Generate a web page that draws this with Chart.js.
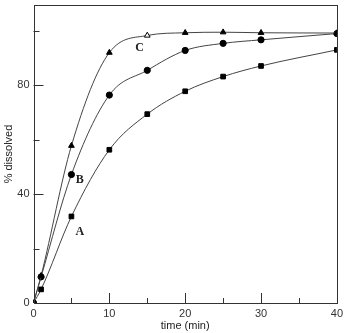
<!DOCTYPE html>
<html><head><meta charset="utf-8">
<script src="https://cdn.jsdelivr.net/npm/chart.js@4"></script>
<style>html,body{margin:0;padding:0;background:#fff}#wrap{width:347px;height:333px}</style>
</head><body><div id="wrap"><canvas id="c"></canvas></div>
<script>
const times = [0, 1, 5, 10, 15, 20, 25, 30, 40];
const seriesA = [0, 5, 31.8, 56.3, 69.4, 77.8, 83.2, 87.1, 93];
const seriesB = [0, 9.6, 47.2, 76.4, 85.5, 92.8, 95.4, 96.7, 99];
const seriesC = [0, 10, 57.8, 92, 98.3, 99.3, 99.5, 99.3, 99.2];
const xTickLabels = [0, 10, 20, 30, 40];
const yTickLabels = [0, 40, 80];
const curveLabels = ['A', 'B', 'C'];

const toXY = ys => times.map((t, i) => ({x: t, y: ys[i]}));
const labelPos = {A: [6.1, 26.3], B: [6.1, 45.3], C: [14.0, 93.8]};

const frame = {
  id: 'frame',
  afterDraw(chart) {
    const {ctx, chartArea: a, scales} = chart;
    ctx.save();
    ctx.strokeStyle = '#333'; ctx.lineWidth = 1;
    ctx.strokeRect(Math.round(a.left) + 0.5, Math.round(a.top) + 0.5, Math.round(a.right - a.left), Math.round(a.bottom - a.top));
    ctx.beginPath();
    scales.x.ticks.forEach(t => {
      const px = Math.round(scales.x.getPixelForValue(t.value)) + 0.5;
      const len = t.value % 10 === 0 ? 10 : 5;
      if (t.value <= 0 || t.value >= 40) return;
      ctx.moveTo(px, a.bottom); ctx.lineTo(px, a.bottom - len);
    });
    scales.y.ticks.forEach(t => {
      const py = Math.round(scales.y.getPixelForValue(t.value)) + 0.5;
      const len = t.value % 40 === 0 ? 10 : 6;
      if (t.value <= 0) return;
      ctx.moveTo(a.left, py); ctx.lineTo(a.left + len, py);
    });
    ctx.stroke();
    ctx.fillStyle = '#222';
    ctx.font = 'bold 12px "Liberation Serif"';
    ctx.textAlign = 'center'; ctx.textBaseline = 'middle';
    curveLabels.forEach(k => {
      const [vx, vy] = labelPos[k];
      ctx.fillText(k, scales.x.getPixelForValue(vx), scales.y.getPixelForValue(vy));
    });
    ctx.restore();
  }
};

const mk = (label, ys, style, radius, bg) => ({
  label, data: toXY(ys),
  borderColor: '#444', borderWidth: 1,
  pointStyle: style, pointRadius: radius,
  pointBackgroundColor: bg || '#000', pointBorderColor: '#000', pointBorderWidth: 1,
  cubicInterpolationMode: 'monotone', fill: false
});

new Chart(document.getElementById('c'), {
  type: 'line',
  data: {
    datasets: [
      mk('C', seriesC, 'triangle', 3.3, seriesC.map((v, i) => i === 4 ? '#fff' : '#000')),
      mk('A', seriesA, 'rect', 3.3),
      mk('B', seriesB, 'circle', 3.1)
    ]
  },
  options: {
    responsive: true, maintainAspectRatio: false, animation: false,
    layout: {padding: {top: 4, right: 8, left: 0, bottom: 0}},
    plugins: {legend: {display: false}, tooltip: {enabled: false}},
    scales: {
      x: {
        type: 'linear', min: 0, max: 40,
        border: {display: false},
        grid: {display: false, drawTicks: false},
        ticks: {stepSize: 5, padding: 4, color: '#333', font: {family: '"Liberation Sans", Arial', size: 11},
          callback: v => xTickLabels.includes(v) ? String(v) : ''},
        title: {display: true, text: 'time (min)', color: '#222', font: {family: '"Liberation Sans", Arial', size: 11}, padding: {top: 1, bottom: 0}},
        afterFit: s => { s.height = 30; }
      },
      y: {
        type: 'linear', min: 0, max: 109.5,
        border: {display: false},
        grid: {display: false, drawTicks: false},
        afterBuildTicks: s => { s.ticks = s.ticks.filter(t => t.value % 20 === 0); },
        ticks: {stepSize: 20, padding: 4, color: '#333', font: {family: '"Liberation Sans", Arial', size: 11},
          callback: v => yTickLabels.includes(v) ? String(v) : ''},
        title: {display: true, text: '% dissolved', color: '#222', font: {family: '"Liberation Sans", Arial', size: 11}, padding: {top: 2, bottom: 0}},
        afterFit: s => { s.width = 33.5; s.paddingTop = 0; }
      }
    }
  },
  plugins: [frame]
});
</script></body></html>
